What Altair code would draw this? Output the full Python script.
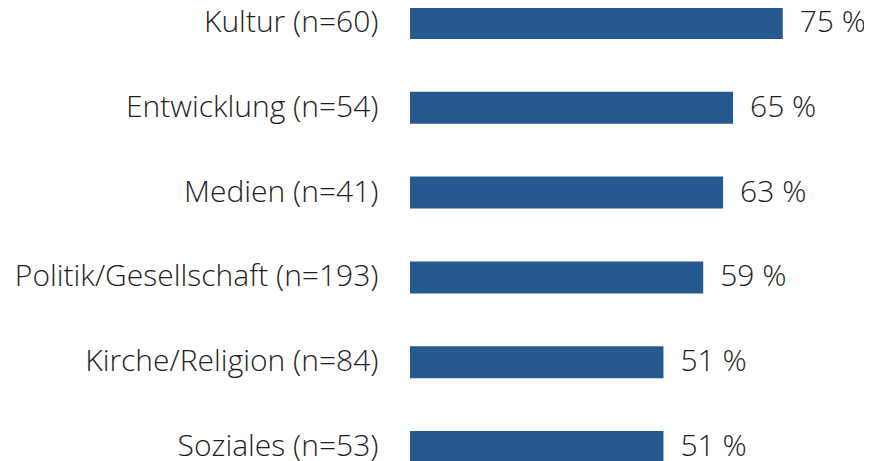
import altair as alt
import pandas as pd

categories = ["Kultur (n=60)", "Entwicklung (n=54)", "Medien (n=41)",
              "Politik/Gesellschaft (n=193)", "Kirche/Religion (n=84)", "Soziales (n=53)"]
values = [75, 65, 63, 59, 51, 51]
labels = ["75 %", "65 %", "63 %", "59 %", "51 %", "51 %"]

df = pd.DataFrame({"cat": categories, "val": values, "lab": labels})

FONT = "Open Sans"
y = alt.Y("cat:N", sort=categories, title=None,
          scale=alt.Scale(range=[-27.4, 481.4], paddingInner=0.623, paddingOuter=0.3115),
          axis=alt.Axis(domain=False, ticks=False, labelPadding=32, labelFontSize=30,
                        labelFont=FONT, labelColor="#1e1e1e", labelLimit=500,
                        labelFontWeight=300))
x = alt.X("val:Q", title=None, scale=alt.Scale(domain=[0, 91.35], nice=False, zero=True),
          axis=None)

bars = alt.Chart(df).mark_bar(color="#265a8f").encode(x=x, y=y)
text = alt.Chart(df).mark_text(align="left", baseline="middle", dx=17, fontSize=30,
                               font=FONT, color="#1e1e1e", fontWeight=300).encode(
    x=x, y=y, text="lab:N")

chart = (bars + text).properties(
    width=454, height=453,
    autosize=alt.AutoSizeParams(type="none"),
    padding={"left": 402, "top": 0, "right": 0, "bottom": 0},
).configure_view(stroke=None)

chart.save("out.html", embed_options={"renderer": "svg", "actions": False})
